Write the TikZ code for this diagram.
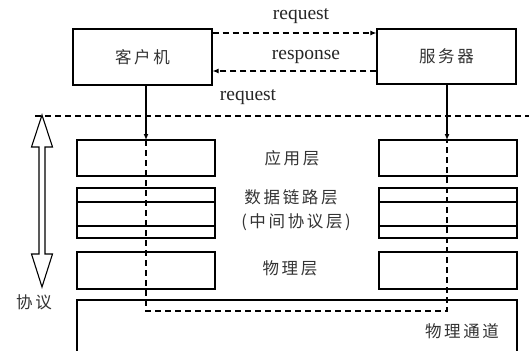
\documentclass[tikz,border=0pt]{standalone}
\usepackage{fontspec}
\setmainfont{Liberation Serif}
\newfontfamily\cjk[LetterSpace=16]{Noto Sans CJK SC}
\usetikzlibrary{arrows.meta}
\begin{document}
\begin{tikzpicture}[x=1pt,y=-1pt,
  box/.style={draw,line width=1.2pt,rectangle,inner sep=0pt},
  layerbox/.style={draw,line width=1.2pt},
  dsh/.style={line width=1.1pt,dash pattern=on 6pt off 4pt},
  tip/.style={-{Latex[length=6pt,width=5pt]}},
  cn/.style={font=\cjk\fontsize{16.5}{18}\selectfont,text=black!80,inner sep=0pt},
  en/.style={font=\fontsize{19.5}{21}\selectfont,text=black!85,inner sep=0pt}]
\useasboundingbox (0,0) rectangle (529,350);
% top boxes
\node[box,minimum width=139pt,minimum height=56pt,cn] (client) at (142.5,57) {客户机};
\node[box,minimum width=139pt,minimum height=55pt,cn] (server) at (446.5,56.5) {服务器};
% request / response arrows
\draw[dsh,tip] (client.east |- 0,33) coordinate (r1) -- (server.west |- 0,33) coordinate (r2);
\draw[dsh,tip] (server.west |- 0,71) coordinate (s1) -- (client.east |- 0,71) coordinate (s2);
\node[en] (lreq1) at (301,16) {request};
\node[en] (lresp) at (306,57) {response};
\node[en] (lreq2) at (248,97) {request};
% long dashed line
\coordinate (dl) at (35,116);
\coordinate (dr) at (529,116);
\draw[dsh] (dl) -- (dr);
% layer boxes
\foreach \x/\n in {77/L,379/R}{
  \draw[layerbox] (\x,140) rectangle ++(138,36);
  \draw[layerbox] (\x,188) rectangle ++(138,50);
  \draw[line width=1.2pt] (\x,202) -- ++(138,0);
  \draw[line width=1.2pt] (\x,226) -- ++(138,0);
  \draw[layerbox] (\x,252) rectangle ++(138,37);
}
% physical channel
\draw[line width=1.2pt] (77,352) -- (77,300) -- (517,300) -- (517,352);
% vertical connectors
\coordinate (ca) at (146,140);
\coordinate (sa) at (447,140);
\draw[line width=1.2pt,tip] (client.south -| ca) -- (ca);
\draw[line width=1.2pt,tip] (server.south -| sa) -- (sa);
\coordinate (cb) at (146,311);
\coordinate (sb) at (447,311);
\draw[dsh] (ca) -- (cb) -- (sb) -- (sa);
% double arrow
\draw[line width=1.1pt,line join=miter] (42,115) -- (52.5,147) -- (45,147) -- (45,254) -- (52.5,254)
  -- (42,287) -- (31.5,254) -- (39,254) -- (39,147) -- (31.5,147) -- cycle;
% labels
\node[cn] (lapp) at (292,158) {应用层};
\node[cn] (ldl) at (291,197) {数据链路层};
\node[cn] (lmid) at (296,222) {(中间协议层)};
\node[cn] (lphy) at (290,268) {物理层};
\node[cn] (lproto) at (34,302) {协议};
\node[cn] (lchan) at (462,331) {物理通道};
\end{tikzpicture}
\end{document}
